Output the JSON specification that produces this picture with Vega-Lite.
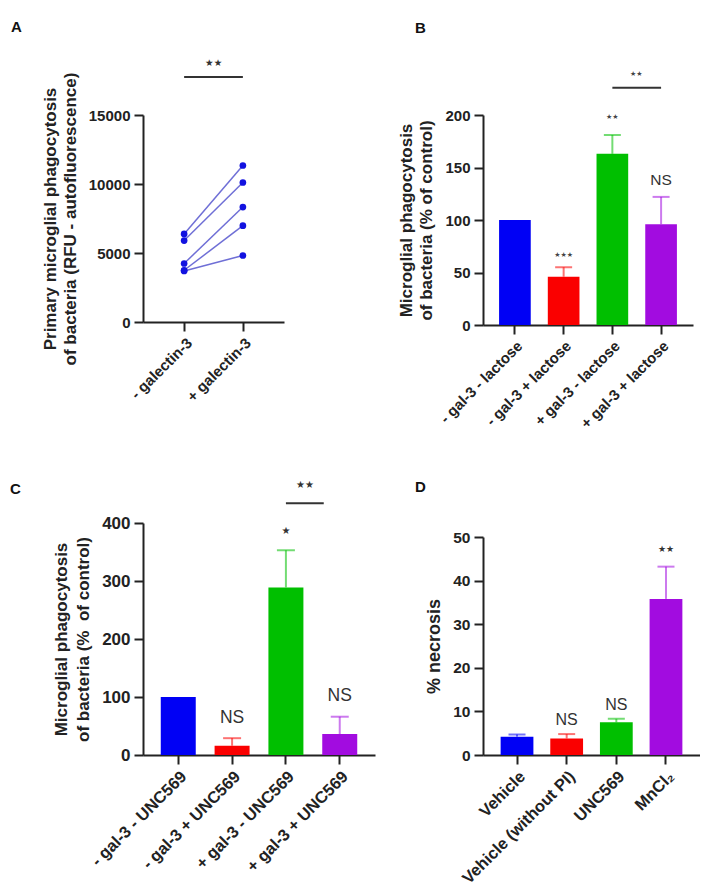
{
  "$schema": "https://vega.github.io/schema/vega-lite/v6.json",
  "background": "white",
  "padding": {"left": 10, "top": 20, "right": 0, "bottom": 0},
  "config": {
    "view": {"stroke": null},
    "font": "Liberation Sans",
    "axis": {"domainColor": "#222", "domainWidth": 2, "tickColor": "#222", "tickWidth": 2, "tickSize": 9, "labelFont": "Liberation Sans", "labelFontWeight": "bold", "labelColor": "#222", "labelFontSize": 15, "titleFont": "Liberation Sans", "titleFontWeight": "bold", "titleColor": "#222", "titleFontSize": 17, "grid": false, "labelPadding": 4, "titlePadding": 9},
    "axisX": {"labelAngle": -45, "bandPosition": 0.5},
    "title": {"font": "Liberation Sans", "fontSize": 15, "fontWeight": "bold", "color": "#111", "anchor": "start", "frame": "group"}
  },
  "resolve": {"scale": {"color": "independent", "x": "independent", "y": "independent"}},
  "columns": 2,
  "spacing": {"row": 198, "column": 108},
  "bounds": "flush",
  "align": "each",
  "concat": [
    {
      "width": 141, "height": 207,
      "title": {"text": "A", "dx": -132, "dy": -19},
      "layer": [
        {
          "data": {"values": [
            {"cond": "- galectin-3", "val": 6380, "pair": "p1"}, {"cond": "+ galectin-3", "val": 11340, "pair": "p1"},
            {"cond": "- galectin-3", "val": 5900, "pair": "p2"}, {"cond": "+ galectin-3", "val": 10110, "pair": "p2"},
            {"cond": "- galectin-3", "val": 4240, "pair": "p3"}, {"cond": "+ galectin-3", "val": 8330, "pair": "p3"},
            {"cond": "- galectin-3", "val": 3750, "pair": "p4"}, {"cond": "+ galectin-3", "val": 6980, "pair": "p4"},
            {"cond": "- galectin-3", "val": 3700, "pair": "p5"}, {"cond": "+ galectin-3", "val": 4820, "pair": "p5"}
          ]},
          "layer": [
            {"mark": {"type": "line", "color": "#6f6fd6", "strokeWidth": 1.5},
             "encoding": {
               "x": {"field": "cond", "type": "nominal", "scale": {"type": "point", "padding": 0.7, "domain": ["- galectin-3", "+ galectin-3"]}, "axis": {"title": null}},
               "y": {"field": "val", "type": "quantitative", "scale": {"domain": [0, 15000], "nice": false}, "axis": {"values": [0, 5000, 10000, 15000], "format": "d", "title": ["Primary microglial phagocytosis", "of bacteria (RFU - autofluorescence)"], "titleLineHeight": 20}},
               "detail": {"field": "pair"}
             }},
            {"mark": {"type": "point", "filled": true, "size": 45, "color": "#1212e0", "opacity": 1},
             "encoding": {
               "x": {"field": "cond", "type": "nominal"},
               "y": {"field": "val", "type": "quantitative"}
             }}
          ]
        },
        {
          "data": {"values": [{"from": "- galectin-3", "to": "+ galectin-3", "lineY": 17754, "textY": 18768, "label": "★★"}]},
          "layer": [
            {"mark": {"type": "rule", "color": "#333", "strokeWidth": 2},
             "encoding": {"x": {"field": "from", "type": "nominal"}, "x2": {"field": "to"}, "y": {"field": "lineY", "type": "quantitative"}}},
            {"mark": {"type": "text", "font": "DejaVu Sans", "fontSize": 9.5, "color": "#333", "dx": 29.5},
             "encoding": {"x": {"field": "from", "type": "nominal"}, "y": {"field": "textY", "type": "quantitative"}, "text": {"field": "label"}}}
          ]
        }
      ]
    },
    {
      "width": 210, "height": 210,
      "title": {"text": "B", "dx": -68, "dy": -30},
      "layer": [
        {
          "data": {"values": [
            {"cond": "- gal-3 - lactose", "mean": 100, "upper": null},
            {"cond": "- gal-3 + lactose", "mean": 46, "upper": 55},
            {"cond": "+ gal-3 - lactose", "mean": 163, "upper": 181},
            {"cond": "+ gal-3 + lactose", "mean": 96, "upper": 122}
          ]},
          "encoding": {
            "x": {"field": "cond", "type": "nominal", "scale": {"domain": ["- gal-3 - lactose", "- gal-3 + lactose", "+ gal-3 - lactose", "+ gal-3 + lactose"], "paddingInner": 0.35, "paddingOuter": 0.33}, "axis": {"title": null}},
            "color": {"field": "cond", "type": "nominal", "scale": {"domain": ["- gal-3 - lactose", "- gal-3 + lactose", "+ gal-3 - lactose", "+ gal-3 + lactose"], "range": ["#0000f5", "#fa0000", "#00bf00", "#a20ce0"]}, "legend": null}
          },
          "layer": [
            {"transform": [{"filter": "datum.upper != null"}],
             "mark": {"type": "rule", "strokeWidth": 2, "opacity": 0.55},
             "encoding": {"y": {"field": "mean", "type": "quantitative"}, "y2": {"field": "upper"}}},
            {"transform": [{"filter": "datum.upper != null"}],
             "mark": {"type": "tick", "size": 17, "thickness": 2, "opacity": 0.55},
             "encoding": {"y": {"field": "upper", "type": "quantitative"}}},
            {"mark": {"type": "bar", "opacity": 1},
             "encoding": {"y": {"field": "mean", "type": "quantitative", "scale": {"domain": [0, 200], "nice": false}, "axis": {"values": [0, 50, 100, 150, 200], "title": ["Microglial phagocytosis", "of bacteria (% of control)"], "titleLineHeight": 20}}}}
          ]
        },
        {
          "data": {"values": [
            {"cond": "- gal-3 + lactose", "y": 66.7, "label": "★★★"},
            {"cond": "+ gal-3 - lactose", "y": 198, "label": "★★"}
          ]},
          "mark": {"type": "text", "font": "DejaVu Sans", "fontSize": 7, "color": "#444"},
          "encoding": {"x": {"field": "cond", "type": "nominal"}, "y": {"field": "y", "type": "quantitative"}, "text": {"field": "label"}}
        },
        {
          "data": {"values": [{"cond": "+ gal-3 + lactose", "y": 138, "label": "NS"}]},
          "mark": {"type": "text", "fontSize": 15.5, "color": "#333"},
          "encoding": {"x": {"field": "cond", "type": "nominal"}, "y": {"field": "y", "type": "quantitative"}, "text": {"field": "label"}}
        },
        {
          "data": {"values": [{"from": "+ gal-3 - lactose", "to": "+ gal-3 + lactose", "lineY": 226, "textY": 239.5, "label": "★★"}]},
          "layer": [
            {"mark": {"type": "rule", "color": "#333", "strokeWidth": 2},
             "encoding": {"x": {"field": "from", "type": "nominal"}, "x2": {"field": "to"}, "y": {"field": "lineY", "type": "quantitative"}}},
            {"mark": {"type": "text", "font": "DejaVu Sans", "fontSize": 7, "color": "#444", "dx": 24},
             "encoding": {"x": {"field": "from", "type": "nominal"}, "y": {"field": "textY", "type": "quantitative"}, "text": {"field": "label"}}}
          ]
        }
      ]
    },
    {
      "width": 232, "height": 232,
      "title": {"text": "C", "dx": -133, "dy": 21},
      "layer": [
        {
          "data": {"values": [
            {"cond": "- gal-3 - UNC569", "mean": 100, "upper": null},
            {"cond": "- gal-3 + UNC569", "mean": 16, "upper": 29},
            {"cond": "+ gal-3 - UNC569", "mean": 289, "upper": 353},
            {"cond": "+ gal-3 + UNC569", "mean": 36, "upper": 66}
          ]},
          "encoding": {
            "x": {"field": "cond", "type": "nominal", "scale": {"domain": ["- gal-3 - UNC569", "- gal-3 + UNC569", "+ gal-3 - UNC569", "+ gal-3 + UNC569"], "paddingInner": 0.35, "paddingOuter": 0.33}, "axis": {"title": null, "labelFontSize": 16.5}},
            "color": {"field": "cond", "type": "nominal", "scale": {"domain": ["- gal-3 - UNC569", "- gal-3 + UNC569", "+ gal-3 - UNC569", "+ gal-3 + UNC569"], "range": ["#0000f5", "#fa0000", "#00bf00", "#a20ce0"]}, "legend": null}
          },
          "layer": [
            {"transform": [{"filter": "datum.upper != null"}],
             "mark": {"type": "rule", "strokeWidth": 2, "opacity": 0.55},
             "encoding": {"y": {"field": "mean", "type": "quantitative"}, "y2": {"field": "upper"}}},
            {"transform": [{"filter": "datum.upper != null"}],
             "mark": {"type": "tick", "size": 18, "thickness": 2, "opacity": 0.55},
             "encoding": {"y": {"field": "upper", "type": "quantitative"}}},
            {"mark": {"type": "bar", "opacity": 1},
             "encoding": {"y": {"field": "mean", "type": "quantitative", "scale": {"domain": [0, 400], "nice": false}, "axis": {"values": [0, 100, 200, 300, 400], "labelFontSize": 17, "titleFontSize": 17, "title": ["Microglial phagocytosis", "of bacteria (%\u00a0 of control)"], "titleLineHeight": 22}}}}
          ]
        },
        {
          "data": {"values": [
            {"cond": "+ gal-3 - UNC569", "y": 386, "label": "★"}
          ]},
          "mark": {"type": "text", "font": "DejaVu Sans", "fontSize": 10, "color": "#333"},
          "encoding": {"x": {"field": "cond", "type": "nominal"}, "y": {"field": "y", "type": "quantitative"}, "text": {"field": "label"}}
        },
        {
          "data": {"values": [
            {"cond": "- gal-3 + UNC569", "y": 63.8, "label": "NS"},
            {"cond": "+ gal-3 + UNC569", "y": 101.7, "label": "NS"}
          ]},
          "mark": {"type": "text", "fontSize": 17.5, "color": "#333"},
          "encoding": {"x": {"field": "cond", "type": "nominal"}, "y": {"field": "y", "type": "quantitative"}, "text": {"field": "label"}}
        },
        {
          "data": {"values": [{"from": "+ gal-3 - UNC569", "to": "+ gal-3 + UNC569", "lineY": 434, "textY": 465.5, "label": "★★"}]},
          "layer": [
            {"mark": {"type": "rule", "color": "#333", "strokeWidth": 2, "x2Offset": -16},
             "encoding": {"x": {"field": "from", "type": "nominal"}, "x2": {"field": "to"}, "y": {"field": "lineY", "type": "quantitative"}}},
            {"mark": {"type": "text", "font": "DejaVu Sans", "fontSize": 10, "color": "#333", "dx": 19},
             "encoding": {"x": {"field": "from", "type": "nominal"}, "y": {"field": "textY", "type": "quantitative"}, "text": {"field": "label"}}}
          ]
        }
      ]
    },
    {
      "width": 217, "height": 232,
      "title": {"text": "D", "dx": -68, "dy": -24},
      "layer": [
        {
          "data": {"values": [
            {"cond": "Vehicle", "mean": 4.2, "upper": 4.7},
            {"cond": "Vehicle (without PI)", "mean": 3.8, "upper": 4.8},
            {"cond": "UNC569", "mean": 7.5, "upper": 8.3},
            {"cond": "MnCl₂", "mean": 35.8, "upper": 43.2}
          ]},
          "encoding": {
            "x": {"field": "cond", "type": "nominal", "scale": {"domain": ["Vehicle", "Vehicle (without PI)", "UNC569", "MnCl₂"], "paddingInner": 0.34, "paddingOuter": 0.355}, "axis": {"title": null, "labelFontSize": 16.5}},
            "color": {"field": "cond", "type": "nominal", "scale": {"domain": ["Vehicle", "Vehicle (without PI)", "UNC569", "MnCl₂"], "range": ["#0000f5", "#fa0000", "#00bf00", "#a20ce0"]}, "legend": null}
          },
          "layer": [
            {"mark": {"type": "rule", "strokeWidth": 2, "opacity": 0.55},
             "encoding": {"y": {"field": "mean", "type": "quantitative"}, "y2": {"field": "upper"}}},
            {"mark": {"type": "tick", "size": 17, "thickness": 2, "opacity": 0.55},
             "encoding": {"y": {"field": "upper", "type": "quantitative"}}},
            {"mark": {"type": "bar", "opacity": 1},
             "encoding": {"y": {"field": "mean", "type": "quantitative", "scale": {"domain": [0, 50], "nice": false, "range": [232, 14]}, "axis": {"values": [0, 10, 20, 30, 40, 50], "labelFontSize": 15.5, "titleFontSize": 18, "title": "% necrosis"}}}}
          ]
        },
        {
          "data": {"values": [
            {"cond": "MnCl₂", "y": 47.2, "label": "★★"}
          ]},
          "mark": {"type": "text", "font": "DejaVu Sans", "fontSize": 9, "color": "#333"},
          "encoding": {"x": {"field": "cond", "type": "nominal"}, "y": {"field": "y", "type": "quantitative"}, "text": {"field": "label"}}
        },
        {
          "data": {"values": [
            {"cond": "Vehicle (without PI)", "y": 8.0, "label": "NS"},
            {"cond": "UNC569", "y": 11.5, "label": "NS"}
          ]},
          "mark": {"type": "text", "fontSize": 16, "color": "#333"},
          "encoding": {"x": {"field": "cond", "type": "nominal"}, "y": {"field": "y", "type": "quantitative"}, "text": {"field": "label"}}
        }
      ]
    }
  ]
}
